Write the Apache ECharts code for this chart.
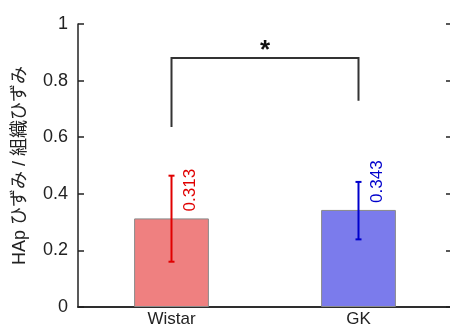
<!DOCTYPE html>
<html>
<head>
<meta charset="utf-8">
<script src="https://cdn.jsdelivr.net/npm/echarts@6/dist/echarts.min.js"></script>
<style>
  html, body { margin: 0; padding: 0; background: #fff; }
  #chart { width: 450px; height: 331px; }
</style>
</head>
<body>
<div id="chart"></div>
<script>
var categories = ['Wistar', 'GK'];
var means = [0.313, 0.343];
var errLow = [0.160, 0.239];
var errHigh = [0.464, 0.442];
var barColors = ['#ef8080', '#7b7bec'];
var errColors = ['#e00000', '#0000cc'];
// significance bracket: [category index, value]
var bracket = [[0, 0.636], [0, 0.88], [1, 0.88], [1, 0.729]];
var starValue = 0.915;

var chartDom = document.getElementById('chart');
var chart = echarts.init(chartDom);

var axisColor = '#222';
var font = '"Liberation Sans", Arial, sans-serif';

var option = {
  animation: false,
  textStyle: { fontFamily: font },
  grid: { left: 78, right: -2, top: 24, bottom: 24, containLabel: false, outerBoundsMode: 'none' },
  xAxis: [
    {
      type: 'category',
      data: categories,
      axisLine: { lineStyle: { color: axisColor, width: 1.5 } },
      axisTick: { inside: true, length: 5, lineStyle: { color: axisColor, width: 1.5 } },
      axisLabel: { color: '#222', fontSize: 17, margin: 4, fontFamily: font }
    },
    {
      type: 'category',
      position: 'top',
      data: categories,
      axisLine: { lineStyle: { color: axisColor, width: 1.5 } },
      axisTick: { inside: true, length: 5, lineStyle: { color: axisColor, width: 1.5 } },
      axisLabel: { show: false }
    }
  ],
  yAxis: [
    {
      type: 'value',
      min: 0,
      max: 1,
      interval: 0.2,
      name: 'HAp ひずみ / 組織ひずみ',
      nameLocation: 'middle',
      nameGap: 49,
      nameTextStyle: { color: '#222', fontSize: 18, fontFamily: '"Liberation Sans", "Noto Sans CJK JP", sans-serif' },
      splitLine: { show: false },
      axisLine: { show: true, lineStyle: { color: axisColor, width: 1.5 } },
      axisTick: { show: true, inside: true, length: 6, lineStyle: { color: axisColor, width: 1.5 } },
      axisLabel: {
        color: '#222', fontSize: 18, margin: 10, fontFamily: font,
        formatter: function (v) { return (v === 0 || v === 1) ? String(v) : v.toFixed(1); }
      }
    },
    {
      type: 'value',
      position: 'right',
      min: 0,
      max: 1,
      interval: 0.2,
      splitLine: { show: false },
      axisLine: { show: true, lineStyle: { color: axisColor, width: 1.5 } },
      axisTick: { show: true, inside: true, length: 6, lineStyle: { color: axisColor, width: 1.5 } },
      axisLabel: { show: false }
    }
  ],
  series: [
    {
      type: 'bar',
      barWidth: '40%',
      z: 2,
      data: means.map(function (v, i) {
        return {
          value: v,
          itemStyle: { color: barColors[i], borderColor: '#8a8a8a', borderWidth: 1 }
        };
      })
    },
    {
      type: 'custom',
      z: 5,
      data: means.map(function (v, i) { return [i, v, errLow[i], errHigh[i]]; }),
      renderItem: function (params, api) {
        var i = api.value(0);
        var top = api.coord([i, api.value(3)]);
        var bot = api.coord([i, api.value(2)]);
        var mid = api.coord([i, api.value(1)]);
        var c = errColors[i];
        var cap = 3;
        var st = { stroke: c, lineWidth: 2 };
        return {
          type: 'group',
          children: [
            { type: 'line', shape: { x1: top[0], y1: top[1], x2: bot[0], y2: bot[1] }, style: st },
            { type: 'line', shape: { x1: top[0] - cap, y1: top[1], x2: top[0] + cap, y2: top[1] }, style: st },
            { type: 'line', shape: { x1: bot[0] - cap, y1: bot[1], x2: bot[0] + cap, y2: bot[1] }, style: st },
            {
              type: 'text',
              x: top[0] + 19,
              y: mid[1] - 7,
              rotation: Math.PI / 2,
              style: {
                text: api.value(1).toFixed(3),
                fill: c,
                fontSize: 17,
                fontFamily: font,
                align: 'left',
                verticalAlign: 'middle'
              }
            }
          ]
        };
      }
    },
    {
      type: 'custom',
      z: 5,
      data: [0],
      renderItem: function (params, api) {
        var pts = bracket.map(function (p) { return api.coord(p); });
        var a = api.coord([0, starValue]);
        var b = api.coord([1, starValue]);
        return {
          type: 'group',
          children: [
            { type: 'polyline', shape: { points: pts }, style: { stroke: '#333', lineWidth: 2, fill: null } },
            {
              type: 'text',
              x: (a[0] + b[0]) / 2,
              y: a[1] + 3,
              style: { text: '*', fill: '#111', fontSize: 26, fontWeight: 'bold', fontFamily: font, align: 'center', verticalAlign: 'middle' }
            }
          ]
        };
      }
    }
  ]
};

chart.setOption(option);
</script>
</body>
</html>
